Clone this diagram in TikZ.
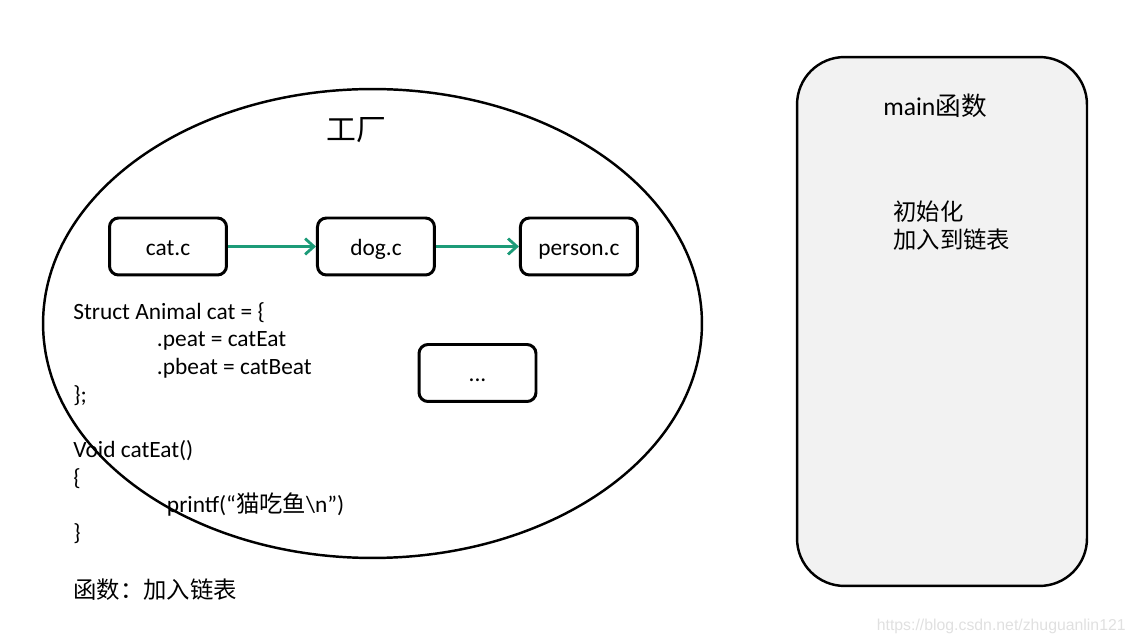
\documentclass[tikz,border=0pt]{standalone}
\usepackage{fontspec}
\setmainfont{Carlito}
\newfontfamily\cjk{Noto Sans CJK SC}
\newfontfamily\wmfont{Liberation Sans}
\usetikzlibrary{arrows.meta,positioning}
\definecolor{linkgreen}{RGB}{28,155,120}
\definecolor{panelgray}{RGB}{242,242,242}
\tikzstyle{file}=[draw,
                  line width=1.7pt,
                  rounded corners=0.18cm,
                  minimum width=2.34cm,
                  minimum height=1.14cm,
                  text height=2.2ex,
                  text depth=.1ex,
                  font=\fontsize{13.3}{16}\selectfont]
\tikzstyle{link}=[line width=1.6pt,draw=linkgreen,-{Straight Barb[length=5pt,width=9pt]}]
\tikzstyle{code}=[anchor=west,align=left,inner sep=0pt,font=\fontsize{13.3}{15.8}\selectfont]

\begin{document}
\begin{tikzpicture}[x=0.02cm,y=-0.02cm]
    \useasboundingbox (0,0) rectangle (1131,644);
    % factory
    \coordinate (fc) at (372.5,323.5);
    \draw[line width=1.4pt] (fc) ellipse [x radius=6.59cm, y radius=4.69cm];
    \node[font=\fontsize{17}{20}\selectfont\cjk] (factory) at (356,130) {工厂};

    \node[file] (cat) at (168,246.5) {cat.c};
    \node[file, right of=cat, node distance=4.16cm] (dog) {dog.c};
    \node[file, right of=dog, node distance=4.06cm] (person) {person.c};
    \node[file] (more) at (477.5,373) {...};

    \path[link] (cat) edge (dog)
    (dog) edge (person);

    \node[code] (struct) at (73,354) {Struct Animal cat = \{\\
        \hspace*{47.6pt}.peat = catEat\\
        \hspace*{47.6pt}.pbeat = catBeat\\
        \};};
    \node[code] (func) at (73,492) {Void catEat()\\
        \{\\
        \hspace*{53.3pt}printf(“{\cjk 猫吃鱼}\textbackslash n”)\\
        \}};
    \node[code,font=\fontsize{13.3}{15.8}\selectfont\cjk] (addlist) at (73,590) {函数：加入链表};

    % main function
    \node[draw,line width=1.4pt,fill=panelgray,rounded corners=0.95cm,
          minimum width=5.8cm,minimum height=10.58cm] (mainbox) at (942,321.5) {};
    \node[font=\fontsize{14.6}{17}\selectfont] (maintitle) at (935,106) {main{\cjk 函数}};
    \node[code,font=\fontsize{13.3}{15.8}\selectfont\cjk] (steps) at (893,226) {初始化\\加入到链表};

    \node[anchor=east,inner sep=0pt,text=black!12,font=\fontsize{9}{10}\selectfont\wmfont] (mark) at (1126,626) {https://blog.csdn.net/zhuguanlin121};
\end{tikzpicture}
\end{document}
